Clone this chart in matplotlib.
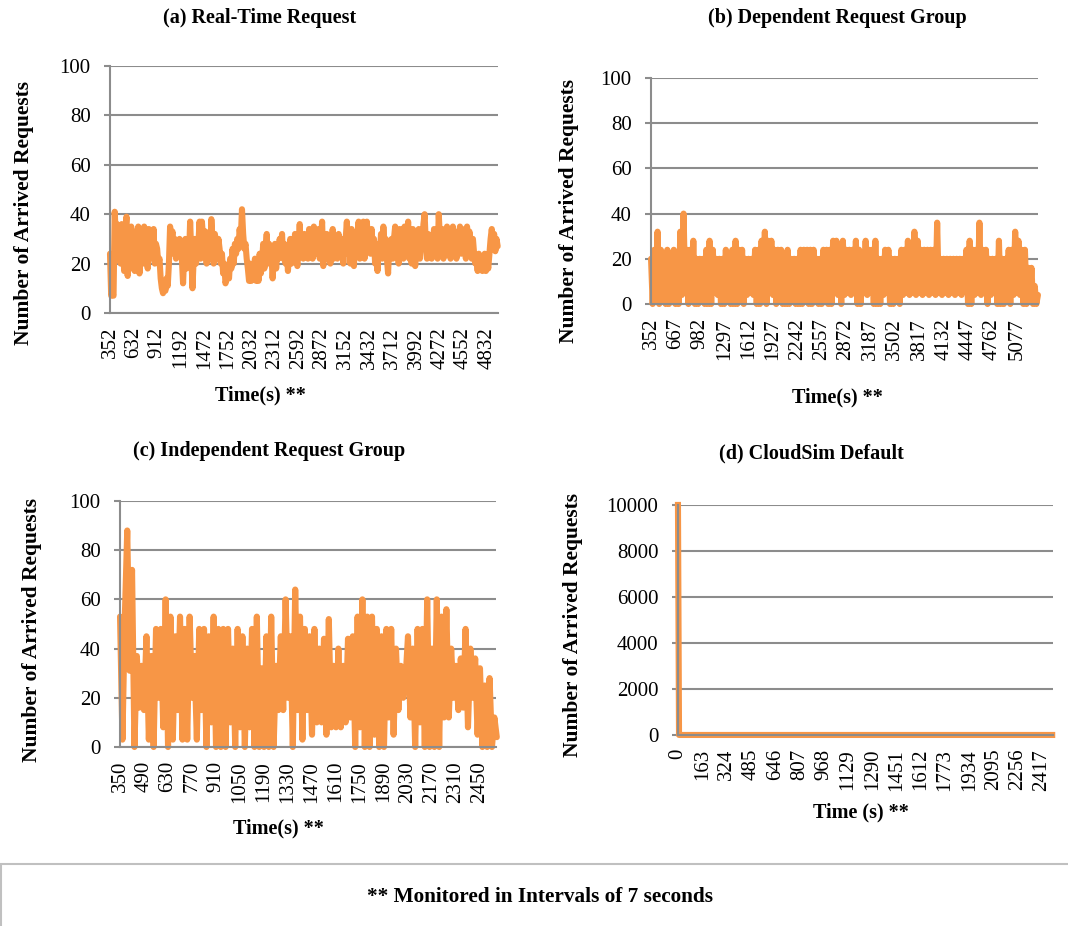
import matplotlib
matplotlib.use("Agg")
from matplotlib import pyplot as plt
from matplotlib.patches import Rectangle
import numpy as np

plt.rcParams['font.family'] = ['Liberation Serif', 'DejaVu Serif']
# keep every zigzag of the dense series
plt.rcParams['path.simplify'] = False

# (a) real-time requests, one reading every 14 s starting at 352 s
rt_start, rt_step = 352, 14
rt_counts = [
    24, 7, 8, 7, 41, 30, 36, 22, 33, 20, 36, 28, 17, 33, 39, 15, 34, 22, 35, 18,
    33, 17, 30, 24, 35, 16, 28, 33, 20, 35, 25, 30, 18, 34, 22, 31, 26, 34, 20, 28,
    26, 20, 22, 14, 10, 8, 12, 9, 14, 11, 20, 35, 28, 33, 24, 30, 22, 28, 24, 30,
    26, 22, 12, 24, 30, 18, 28, 22, 37, 24, 10, 22, 30, 20, 26, 28, 37, 22, 37, 30,
    25, 33, 20, 30, 26, 22, 38, 30, 20, 32, 28, 22, 30, 26, 20, 24, 16, 20, 12, 14,
    18, 14, 22, 18, 26, 20, 28, 24, 30, 26, 34, 30, 42, 32, 26, 28, 22, 18, 13, 20,
    13, 18, 14, 22, 13, 20, 13, 24, 16, 20, 28, 18, 26, 32, 20, 28, 22, 24, 14, 22,
    28, 18, 26, 22, 30, 24, 32, 22, 28, 20, 26, 17, 24, 30, 20, 28, 22, 32, 24, 19,
    26, 36, 24, 30, 22, 32, 26, 28, 22, 34, 24, 30, 22, 35, 26, 30, 24, 34, 22, 28,
    37, 19, 30, 26, 32, 22, 30, 20, 28, 34, 22, 26, 30, 22, 32, 26, 24, 30, 20, 28,
    30, 37, 24, 30, 20, 34, 26, 19, 30, 24, 32, 37, 22, 30, 25, 37, 22, 28, 37, 26,
    30, 24, 34, 26, 30, 20, 28, 17, 28, 24, 32, 22, 35, 26, 30, 22, 16, 28, 24, 30,
    22, 30, 35, 24, 28, 20, 34, 26, 30, 22, 35, 28, 24, 37, 22, 30, 20, 34, 26, 19,
    28, 24, 34, 22, 30, 26, 36, 40, 28, 22, 32, 24, 30, 22, 28, 34, 24, 30, 22, 40,
    30, 24, 34, 22, 30, 26, 35, 24, 32, 22, 28, 35, 24, 30, 22, 33, 26, 35, 24, 30,
    26, 34, 22, 35, 24, 33, 28, 22, 30, 24, 20, 22, 17, 24, 18, 22, 17, 21, 24, 17,
    22, 18, 24, 30, 34, 28, 32, 25, 30, 27,
]
rt_labels = [352, 632, 912, 1192, 1472, 1752, 2032, 2312, 2592, 2872,
             3152, 3432, 3712, 3992, 4272, 4552, 4832]

# (b) dependent request group, one reading every 21 s
dep_start, dep_step = 352, 21
dep_counts = [
    20, 0, 24, 2, 32, 0, 24, 4, 20, 0, 24, 0, 20, 3, 24, 0, 20, 0,
    32, 4, 40, 5,
    24, 0, 24, 3, 28, 0, 20, 0, 20, 2, 20, 0, 24, 0, 28, 0,
    24, 5, 20, 4,
    20, 0, 20, 0, 24, 2, 20, 0, 24, 0, 28, 0, 24, 3, 24, 0,
    20, 4, 20, 5, 20, 4,
    24, 0, 24, 0, 28, 2, 32, 0,
    28, 5, 28, 4,
    24, 0, 24, 3, 24, 0, 20, 0, 24, 0, 20, 2, 20, 0, 20, 0,
    24, 0, 24, 3, 24, 0, 24, 0, 24, 2, 20, 0, 20, 0, 24, 3, 24, 0, 24, 0,
    28, 5, 28, 4,
    24, 0,
    28, 4, 24, 5, 24, 4, 24, 5,
    28, 0, 24, 0,
    20, 5, 28, 4, 24, 5,
    24, 0, 28, 0, 20, 0,
    20, 4, 24, 5,
    24, 0, 20, 0, 20, 2, 20, 0,
    24, 4, 24, 5, 28, 4, 24, 5, 32, 4, 28, 5, 24, 4, 24, 5, 24, 4, 24, 5,
    24, 4, 36, 5, 20, 4, 20, 5, 20, 4, 20, 5, 20, 4, 20, 5, 20, 4, 20, 8,
    24, 0, 28, 0,
    24, 4, 24, 5, 36, 4, 24, 5, 24, 0, 20, 4, 20, 5, 20, 0,
    28, 0, 20, 0, 20, 3, 24, 0,
    24, 4, 32, 5, 28, 4,
    24, 0, 24, 0, 16, 2, 16, 0, 8, 0, 4,
]
dep_labels = [352, 667, 982, 1297, 1612, 1927, 2242, 2557, 2872, 3187,
              3502, 3817, 4132, 4447, 4762, 5077]

# (c) independent request group, one reading every 14 s
ind_start, ind_step = 350, 14
ind_counts = [
    53, 3, 53, 88, 31, 72, 0, 37, 16, 33,
    15, 45, 3, 37, 0, 48, 20, 48, 8, 60,
    0, 53, 3, 45, 15, 53, 3, 48, 3, 53,
    20, 37, 3, 48, 15, 48, 0, 45, 10, 53,
    0, 48, 0, 48, 0, 48, 10, 40, 0, 48,
    8, 45, 0, 40, 8, 48, 0, 53, 0, 32,
    0, 45, 0, 53, 0, 33, 15, 45, 15, 60,
    20, 45, 0, 64, 15, 53, 3, 48, 15, 45,
    5, 48, 10, 40, 10, 44, 5, 52, 8, 33,
    8, 40, 8, 33, 10, 44, 12, 45, 0, 53,
    8, 60, 0, 53, 0, 53, 5, 48, 0, 45,
    0, 48, 12, 48, 5, 40, 15, 33, 20, 28,
    45, 12, 40, 0, 48, 10, 48, 0, 60, 0,
    40, 0, 60, 0, 53, 12, 56, 12, 40, 20,
    33, 15, 36, 16, 48, 8, 40, 20, 36, 5,
    32, 0, 25, 0, 28, 0, 12, 4,
]
ind_labels = [350, 490, 630, 770, 910, 1050, 1190, 1330, 1470, 1610,
              1750, 1890, 2030, 2170, 2310, 2450]

# (d) CloudSim default: everything arrives at once
cs_time = [0, 7, 163, 324, 485, 646, 807, 968, 1129, 1290, 1451, 1612,
           1773, 1934, 2095, 2256, 2417, 2485]
cs_counts = [10000, 0, 0, 0, 0, 0, 0, 0, 0, 0, 0, 0, 0, 0, 0, 0, 0, 0]
cs_labels = [0, 163, 324, 485, 646, 807, 968, 1129, 1290, 1451, 1612,
             1773, 1934, 2095, 2256, 2417]

orange = '#F79646'
grey = '#8C8C8C'
line_w = 4.4

fig = plt.figure(figsize=(10.68, 9.26), dpi=100)


def style_axis(ax, ylim, yticks, xlim, xlabels, ylab_pos):
    ax.set_xlim(*xlim)
    ax.set_ylim(*ylim)
    ax.set_yticks(yticks)
    ax.set_xticks(xlabels)
    ax.set_xticklabels([str(v) for v in xlabels], rotation=90)
    ax.yaxis.grid(True, color=grey, linewidth=1.5)
    ax.set_axisbelow(True)
    for side in ['top', 'right']:
        ax.spines[side].set_visible(False)
    ax.spines['left'].set_color(grey)
    ax.spines['bottom'].set_color(grey)
    ax.spines['left'].set_linewidth(1.5)
    ax.spines['bottom'].set_linewidth(1.5)
    ax.tick_params(axis='y', length=4, width=1.5, color=grey, pad=10, labelsize=15)
    ax.tick_params(axis='x', length=0, pad=10, labelsize=15)
    ax.set_ylabel("Number of Arrived Requests", fontsize=15.5, fontweight='bold')
    ax.yaxis.set_label_coords(*ylab_pos)


def plot_series(ax, start, step, counts):
    t = start + step * np.arange(len(counts))
    ax.plot(t, counts, color=orange, linewidth=line_w, solid_joinstyle='round',
            solid_capstyle='round', clip_on=False)


ax_a = fig.add_axes([0.1030, 0.6620, 0.3633, 0.2667])
plot_series(ax_a, rt_start, rt_step, rt_counts)
style_axis(ax_a, (0, 100), range(0, 101, 20), (352, 4962), rt_labels, (-0.196, 0.405))

ax_b = fig.add_axes([0.6096, 0.6717, 0.3624, 0.2441])
plot_series(ax_b, dep_start, dep_step, dep_counts)
style_axis(ax_b, (0, 100), range(0, 101, 20), (352, 5352), dep_labels, (-0.186, 0.41))

ax_c = fig.add_axes([0.1124, 0.1933, 0.3521, 0.2657])
plot_series(ax_c, ind_start, ind_step, ind_counts)
style_axis(ax_c, (0, 100), range(0, 101, 20), (350, 2544), ind_labels, (-0.207, 0.476))

ax_d = fig.add_axes([0.6348, 0.2063, 0.3511, 0.2484])
ax_d.plot(cs_time, cs_counts, color=orange, linewidth=line_w, solid_joinstyle='round',
          clip_on=False)
style_axis(ax_d, (0, 10000), range(0, 10001, 2000), (0, 2490), cs_labels, (-0.253, 0.478))

# panel titles and x labels
titles = [("(a) Real-Time Request", 260, 18), ("(b) Dependent Request Group", 837, 18),
          ("(c) Independent Request Group", 269, 451), ("(d) CloudSim Default", 811, 453)]
for txt, x, y in titles:
    fig.text(x / 1068, 1 - y / 926, txt, ha='center', va='center',
             fontsize=14.5, fontweight='bold')

xlabs = [("Time(s) **", 260, 395), ("Time(s) **", 837, 397),
         ("Time(s) **", 278, 828), ("Time (s) **", 861, 812)]
for txt, x, y in xlabs:
    fig.text(x / 1068, 1 - y / 926, txt, ha='center', va='center',
             fontsize=14.5, fontweight='bold')

# footnote box
fig.patches.append(Rectangle((1 / 1068, -0.05), 1.2, 0.05 + 1 - 864 / 926,
                             transform=fig.transFigure, facecolor='none',
                             edgecolor='#C0C0C0', linewidth=1.5))
fig.text(540 / 1068, 1 - 897 / 926, "** Monitored in Intervals of 7 seconds",
         ha='center', va='center', fontsize=15.3, fontweight='bold')

plt.savefig("out.png", dpi=100)
